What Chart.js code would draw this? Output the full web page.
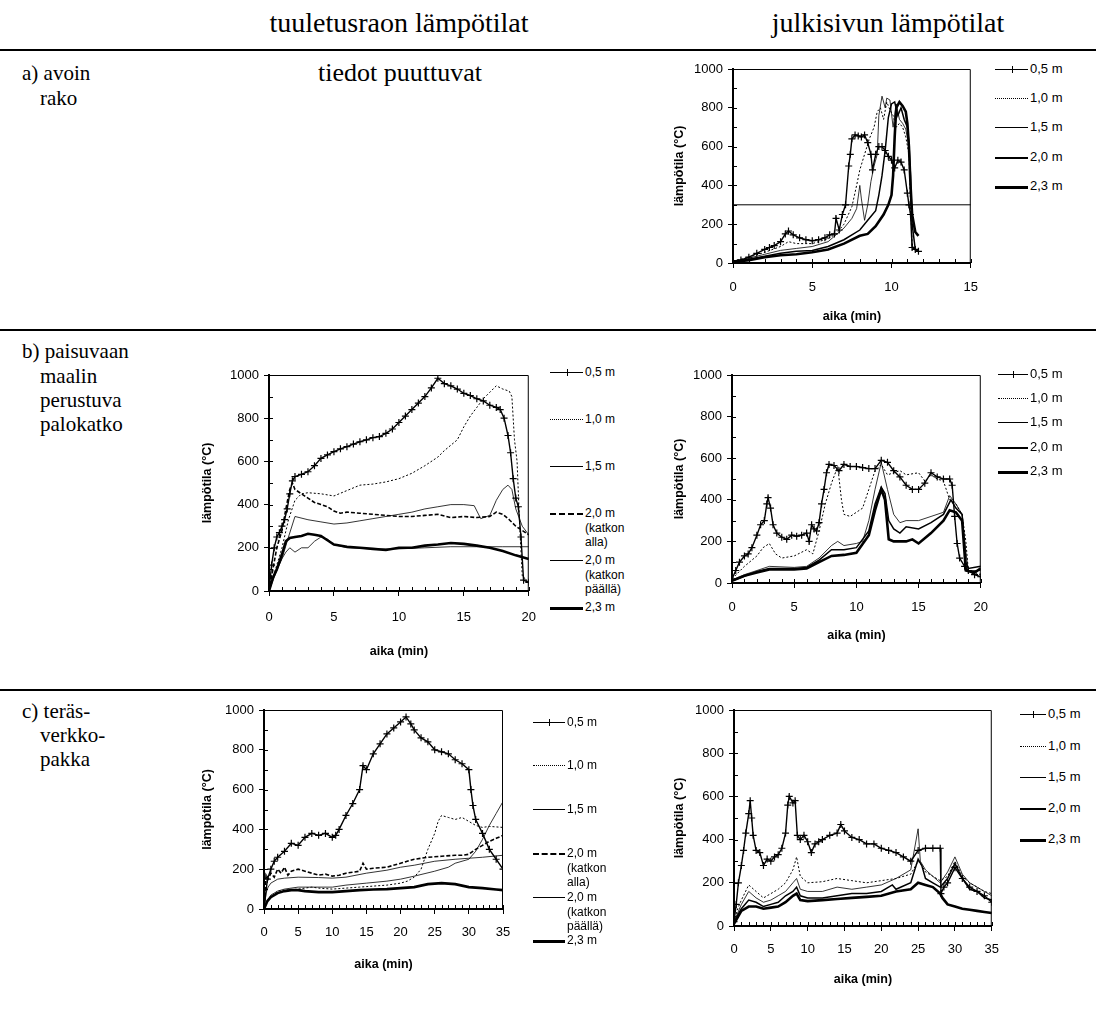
<!DOCTYPE html>
<html lang="fi">
<head>
<meta charset="UTF-8">
<title>Lämpötilat</title>
<script src="https://cdn.jsdelivr.net/npm/chart.js"></script>
<style>
  body { margin: 0; background: #fff; }
  #page { position: relative; width: 1096px; height: 1016px; overflow: hidden; background: #fff; }
  .serif { position: absolute; font-family: "Liberation Serif", "Times New Roman", serif; color: #000; white-space: nowrap; transform: translateY(-50%); }
  .head { font-size: 28px; transform: translate(-50%, -50%); }
  .head.sub { font-size: 26px; }
  .row { font-size: 21px; }
  .rule { position: absolute; left: 0; width: 1096px; background: #000; }
  canvas { position: absolute; }
  .lg { position: absolute; font-family: "Liberation Sans", Arial, sans-serif; font-size: 12px; color: #000; line-height: 14.5px; white-space: nowrap; }
  .lg.big { font-size: 13px; }
  .sw { position: absolute; height: 0; border-top: 1px solid #000; }
  .sw.s05::after { content: ""; position: absolute; left: 50%; top: -4px; width: 1px; height: 7px; background: #000; }
  .sw.s10 { border-top: 1px dotted #000; }
  .sw.s15 { border-top-width: 1px; }
  .sw.s20 { border-top-width: 2px; }
  .sw.s20a { border-top: 2px dashed #000; }
  .sw.s23 { border-top-width: 3px; }
</style>
</head>
<body>
<div id="page">
  <div class="serif head" style="left:399px; top:23px;">tuuletusraon lämpötilat</div>
  <div class="serif head" style="left:888px; top:23px;">julkisivun lämpötilat</div>
  <div class="rule" style="top:49px; height:2px;"></div>

  <div class="serif row" style="left:22px; top:73px;">a) avoin</div>
  <div class="serif row" style="left:40px; top:98px;">rako</div>
  <div class="serif head sub" style="left:400px; top:73px;">tiedot puuttuvat</div>

  <div class="rule" style="top:329px; height:2px;"></div>
  <div class="serif row" style="left:22px; top:351px;">b) paisuvaan</div>
  <div class="serif row" style="left:40px; top:376px;">maalin</div>
  <div class="serif row" style="left:40px; top:400px;">perustuva</div>
  <div class="serif row" style="left:40px; top:424px;">palokatko</div>

  <div class="rule" style="top:689px; height:2px;"></div>
  <div class="serif row" style="left:22px; top:711px;">c) teräs-</div>
  <div class="serif row" style="left:40px; top:735px;">verkko-</div>
  <div class="serif row" style="left:40px; top:759px;">pakka</div>

  <canvas id="chartA" width="330" height="275" style="left:660px; top:55px;"></canvas>
  <canvas id="chartBL" width="355" height="320" style="left:195px; top:340px;"></canvas>
  <canvas id="chartBR" width="340" height="310" style="left:660px; top:340px;"></canvas>
  <canvas id="chartCL" width="340" height="290" style="left:195px; top:690px;"></canvas>
  <canvas id="chartCR" width="350" height="310" style="left:660px; top:690px;"></canvas>
  <div id="legends"></div>
</div>

<script>
// ---- a) avoin rako, julkisivu (0-15 min)
const a05x = [0,0.5,1,1.5,2,2.3,2.6,3,3.3,3.5,3.8,4.2,4.6,5,5.4,5.8,6.1,6.4,6.5,6.7,6.9,7.1,7.3,7.4,7.5,7.7,7.9,8.1,8.3,8.5,8.7,8.8,9.0,9.2,9.4,9.6,9.8,10.0,10.2,10.4,10.6,10.8,11.0,11.1,11.2,11.3,11.5,11.7];
const a05y = [10,15,30,50,70,80,90,110,150,165,145,130,120,115,120,130,145,150,230,170,250,300,500,560,640,660,655,650,660,620,560,480,560,600,600,580,550,530,490,530,520,480,360,300,250,80,70,60];
const a10x = [0,1,2,3,3.5,4,5,6,6.5,7,7.5,7.8,8,8.3,8.6,8.9,9.1,9.3,9.5,9.7,9.9,10.1,10.3,10.5,10.7,10.9,11.1,11.2,11.3,11.5];
const a10y = [10,30,55,85,110,100,100,125,150,200,290,400,480,560,640,700,780,800,740,830,790,760,700,720,700,650,560,300,100,60];
const a15x = [0,1,2,3,4,5,6,7,7.5,7.8,8.0,8.1,8.3,8.5,8.7,8.9,9.1,9.2,9.4,9.6,9.7,9.9,10.1,10.3,10.5,10.7,10.9,11.1,11.2,11.3,11.6];
const a15y = [10,25,45,65,75,85,110,180,230,280,400,330,220,300,420,500,560,760,860,800,850,840,700,820,740,720,690,600,350,90,60];
const a20x = [0,1,2,3,4,5,6,7,8,8.5,9,9.2,9.4,9.6,9.8,10,10.2,10.4,10.6,10.8,11,11.1,11.2,11.3,11.5];
const a20y = [5,20,35,50,60,65,85,120,170,220,270,350,450,580,750,820,830,760,800,740,700,620,450,200,70];
const a23x = [0,1,2,3,4,5,6,7,8,8.5,9,9.5,9.8,10,10.1,10.2,10.3,10.5,10.7,10.9,11.0,11.1,11.2,11.3,11.5,11.7];
const a23y = [5,15,30,40,45,55,70,100,140,150,190,250,300,350,450,650,800,830,810,780,720,600,400,250,160,140];
const aRefX = [0,15];
const aRefY = [300,300];

// ---- b) paisuva palokatko, tuuletusrako (0-20 min)
const bl05x = [0,0.2,0.4,0.6,0.8,1,1.2,1.4,1.6,1.8,2,2.5,3,3.5,4,4.5,5,5.5,6,6.5,7,7.5,8,8.5,9,9.5,10,10.5,11,11.5,12,12.5,13,13.5,14,14.5,15,15.5,16,16.5,17,17.5,17.8,18.1,18.4,18.6,18.8,19,19.2,19.4,19.6,20];
const bl05y = [0,120,200,250,270,300,330,380,450,510,530,540,552,580,614,630,645,658,668,680,691,700,710,715,730,750,780,810,840,870,900,940,985,960,950,935,915,905,890,880,860,850,840,800,720,640,520,430,390,250,50,40];
const bl10x = [0,0.5,1,1.5,2,2.5,3,4,5,6,7,8,9,10,11,12,13,13.5,14,14.5,15,15.5,16,16.5,17,17.5,18,18.5,18.7,18.9,19.1,19.3,19.5,20];
const bl10y = [0,100,200,330,420,450,455,450,440,465,490,495,505,520,545,580,620,650,675,700,760,810,850,890,920,950,935,925,900,700,600,300,70,40];
const bl15x = [0,0.5,1,1.5,2,3,4,5,6,7,8,9,10,11,12,13,14,15,15.8,16.3,17,17.5,18,18.4,18.7,19,19.5,20];
const bl15y = [0,80,150,250,345,330,320,310,315,325,335,345,355,365,380,390,400,400,395,335,350,420,470,490,470,380,300,260];
const bl20ax = [0,0.3,0.6,1,1.3,1.6,1.8,2,2.5,3,3.5,4,4.5,5,5.5,6,7,8,9,10,11,12,13,14,15,16,17,17.5,18,18.5,19,19.5,20];
const bl20ay = [0,100,200,280,380,470,500,470,450,430,410,400,390,370,360,365,360,355,350,345,345,350,355,340,345,340,345,365,355,330,300,280,260];
const bl20bx = [0,0.3,0.6,1,1.3,1.6,2,2.5,3,3.5,4,4.5,5,6,8,10,12,14,16,18,20];
const bl20by = [0,60,100,150,180,200,180,200,200,230,250,240,215,200,195,195,200,205,205,205,205];
const bl23x = [0,0.3,0.6,1,1.3,1.6,2,2.5,3,3.5,4,4.5,5,6,7,8,9,10,11,12,13,14,15,16,17,18,19,20];
const bl23y = [0,60,100,170,230,245,250,255,265,260,255,235,215,205,200,195,190,200,200,210,215,222,218,210,200,185,165,148];

// ---- b) paisuva palokatko, julkisivu (0-20 min)
const br05x = [0,0.3,0.6,1,1.3,1.6,2,2.3,2.6,2.8,2.9,3.1,3.3,3.6,4,4.4,4.8,5.2,5.6,6,6.2,6.4,6.6,6.8,7,7.2,7.4,7.6,7.8,8.2,8.6,9,9.5,10,10.5,11,11.5,12,12.5,13,13.5,14,14.5,15,15.5,16,16.5,17,17.5,17.7,17.9,18.1,18.3,18.7,19,19.5,20];
const br05y = [20,60,100,130,140,170,230,280,300,380,410,360,280,240,220,210,230,225,230,240,200,280,260,250,290,380,450,530,570,565,540,570,560,560,555,550,550,590,580,540,510,470,450,450,480,530,510,500,500,470,320,190,120,80,60,40,30];
const br10x = [0,1,2,2.5,3,3.5,4,5,6,6.5,7,7.5,8,8.5,8.8,9,9.5,10,10.5,11,11.5,12,12.5,13.5,14,15,15.5,16,16.5,17,17.5,18,18.5,18.8,19,20];
const br10y = [20,80,130,170,190,140,120,130,160,140,250,380,480,560,400,330,320,340,360,450,540,570,520,540,520,530,490,520,500,490,400,380,330,200,60,40];
const br15x = [0,1,2,3,5,6,7,8,8.5,9,10,10.5,11,11.5,12,12.5,13,13.5,14,15,16,17,17.5,18,18.5,18.8,19,20];
const br15y = [15,40,60,80,75,80,120,180,200,180,190,200,300,450,580,450,330,290,300,300,320,340,420,380,330,150,60,60];
const br20x = [0,2,3,5,6,7,8,9,10,11,11.5,12,12.3,12.6,13,13.5,14,15,16,17,17.6,18,18.5,18.8,19,20];
const br20y = [10,55,70,70,75,110,160,160,170,250,380,460,430,300,260,240,270,260,290,330,400,360,330,100,70,80];
const br23x = [0,1,2,3,5,6,7,8,9,10,11,11.5,12,12.3,12.6,13,14,14.5,15,16,17,17.5,18,18.5,18.8,19.5,20];
const br23y = [10,35,50,65,65,70,100,130,135,145,230,350,450,400,210,200,200,210,190,240,300,350,340,300,60,50,70];

// ---- c) teräsverkkopakka, tuuletusrako (0-35 min)
const cl05x = [0,0.5,1,1.5,2,3,4,5,6,7,8,9,10,10.5,11,12,13,14,14.5,15,16,17,18,19,20,20.8,21.5,22,23,24,25,26,27,28,29,30,30.3,30.6,31,32,33,34,35];
const cl05y = [0,150,200,240,260,290,330,320,360,380,370,380,360,370,400,470,530,600,720,700,780,830,880,910,940,965,930,900,860,840,800,790,780,750,730,700,600,520,450,380,300,250,200];
const cl10x = [0,0.5,1,2,3,5,7,8,10,12,14,16,18,20,21,22,23,24,25,25.5,26,27,28,29,30,31,32,33,35];
const cl10y = [0,40,60,90,95,100,110,105,100,105,110,115,120,130,140,160,200,300,380,440,470,460,450,460,440,420,410,415,410];
const cl15x = [0,0.5,1,2,3,5,7,10,12,15,18,20,22,25,27,28,29,30,31,32,33,34,35];
const cl15y = [0,40,70,90,100,110,110,110,120,130,140,150,165,190,210,230,240,250,290,350,420,480,540];
const cl20ax = [0,0.3,0.6,1,1.5,2,2.5,3,3.5,4,5,6,7,8,9,10,11,12,13,14,14.5,15,16,18,20,22,24,26,28,29,30,31,32,33,34,35];
const cl20ay = [0,170,150,180,160,200,180,210,170,190,200,190,180,170,175,165,170,180,185,190,230,200,205,210,230,250,260,265,270,270,275,300,320,340,355,370];
const cl20bx = [0,0.3,0.6,1,2,3,5,8,10,12,15,18,20,22,25,28,30,32,35];
const cl20by = [0,80,110,130,150,155,160,158,155,160,180,195,210,220,240,250,255,260,270];
const cl23x = [0,0.5,1,2,3,4,5,6,8,10,12,14,16,18,20,22,24,26,28,30,32,34,35];
const cl23y = [0,40,60,80,90,95,95,90,85,85,90,95,98,100,105,110,125,130,125,110,105,98,95];

// ---- c) teräsverkkopakka, julkisivu (0-35 min)
const cr05x = [0,0.3,0.6,1,1.3,1.6,2,2.2,2.4,2.6,3,3.5,4,4.5,5,5.5,6,6.5,7,7.3,7.5,8,8.3,8.6,9,9.5,10,10.5,11,11.5,12,13,14,14.5,15,16,17,18,19,20,21,22,23,24,25,26,27,28,28.1,28.5,29,30,31,32,33,34,35];
const cr05y = [20,100,200,280,350,430,520,580,500,420,350,340,280,310,300,320,330,360,430,560,600,570,580,420,400,420,390,340,380,390,400,420,430,470,440,410,400,380,380,360,350,340,320,300,350,360,360,360,150,180,200,270,220,180,160,140,110];
const cr10x = [0,0.5,1,2,3,4,5,6,7,8,8.5,9,10,12,14,16,18,20,22,24,25,25.5,26,27,28,29,30,31,32,33,34,35];
const cr10y = [20,80,120,190,160,130,150,170,200,260,320,230,200,205,220,210,200,210,220,240,300,280,250,230,210,230,300,230,200,180,160,150];
const cr15x = [0,0.5,1,2,3,4,5,6,7,8,8.5,9,10,12,14,16,18,20,22,24,25,25.3,26,27,28,29,30,30.5,31,32,33,34,35];
const cr15y = [20,60,100,160,130,110,120,140,160,200,220,170,160,160,180,170,180,190,220,260,450,300,260,230,200,250,320,280,240,200,180,160,140];
const cr20x = [0,0.5,1,2,3,4,5,6,7,8,8.5,9,10,12,14,16,18,20,21.5,22,24,25,25.5,26,27,28,29,30,31,32,33,34,35];
const cr20y = [15,50,80,120,110,90,100,110,140,160,180,140,130,130,140,150,150,160,190,170,200,310,280,220,200,180,220,290,220,170,160,130,120];
const cr23x = [0,0.5,1,2,3,4,5,6,7,8,8.5,9,10,12,14,16,18,20,22,24,25,26,27,28,28.3,29,30,31,32,33,34,35];
const cr23y = [10,40,70,90,90,80,85,90,110,140,150,120,115,120,125,130,135,140,160,170,200,190,180,150,130,100,90,80,75,70,65,60];

Chart.defaults.font.family = '"Liberation Sans", Arial, sans-serif';
Chart.defaults.font.size = 13;
Chart.defaults.color = '#000';

function pts(xs, ys) {
  return xs.map((x, i) => ({ x: x, y: ys[i] }));
}

// line looks per height
const looks = {
  s05: { borderWidth: 1.4, pointStyle: 'cross', pointRadius: 3.5, pointBorderWidth: 1.2 },
  s10: { borderWidth: 1, borderDash: [2, 2] },
  s15: { borderWidth: 0.8 },
  s20: { borderWidth: 1.5 },
  s20a: { borderWidth: 1.6, borderDash: [4, 2] },
  s23: { borderWidth: 2.6 },
  ref: { borderWidth: 1 }
};

function set(label, xs, ys, look) {
  return Object.assign({
    label: label,
    data: pts(xs, ys),
    borderColor: '#000',
    backgroundColor: '#000',
    pointRadius: 0,
    tension: 0,
    fill: false
  }, looks[look]);
}

// frame (top/right) and small inside ticks
const framePlugin = {
  id: 'frame',
  afterDraw(chart) {
    const { ctx, chartArea: a, scales: { x, y } } = chart;
    ctx.save();
    ctx.strokeStyle = '#000';
    ctx.lineWidth = 1;
    ctx.beginPath();
    ctx.moveTo(a.left, a.top + 0.5);
    ctx.lineTo(a.right - 0.5, a.top + 0.5);
    ctx.lineTo(a.right - 0.5, a.bottom);
    for (let v = x.min; v <= x.max; v += 1) {
      const px = Math.round(x.getPixelForValue(v)) + 0.5;
      ctx.moveTo(px, a.bottom);
      ctx.lineTo(px, a.bottom - 4);
    }
    for (let v = y.min; v <= y.max; v += 100) {
      const py = Math.round(y.getPixelForValue(v)) + 0.5;
      ctx.moveTo(a.left, py);
      ctx.lineTo(a.left + 4, py);
    }
    ctx.stroke();
    ctx.restore();
  }
};

function makeChart(id, c) {
  return new Chart(document.getElementById(id), {
    type: 'line',
    data: { datasets: c.sets },
    options: {
      responsive: false,
      animation: false,
      devicePixelRatio: 1,
      layout: { padding: { top: c.padTop, right: c.padRight, left: 0, bottom: 0 } },
      plugins: { legend: { display: false }, tooltip: { enabled: false } },
      scales: {
        x: {
          type: 'linear', min: 0, max: c.xMax,
          ticks: { stepSize: 5, padding: c.xTickPad, callback: v => String(v) },
          grid: { drawOnChartArea: false, tickLength: 5, color: '#000' },
          border: { color: '#000', width: 2 },
          title: { display: true, text: 'aika (min)', font: { size: 12.5, weight: 'bold' }, padding: { top: 0, bottom: c.xTitlePad } },
          afterFit: s => { s.height = c.xH; }
        },
        y: {
          min: 0, max: 1000,
          ticks: { stepSize: 200, padding: 5, callback: v => String(v) },
          grid: { drawOnChartArea: false, tickLength: 5, color: '#000' },
          border: { color: '#000', width: 2 },
          title: { display: true, text: 'lämpötila (°C)', font: { size: 12.5, weight: 'bold' }, padding: { top: c.yTitlePad, bottom: 0 } },
          afterFit: s => { s.width = c.yW; }
        }
      }
    },
    plugins: [framePlugin]
  });
}

makeChart('chartA', {
  xMax: 15, padTop: 14, padRight: 18, yW: 73, xH: 67, xTickPad: 12, xTitlePad: 6, yTitlePad: 12,
  sets: [
    set('0,5 m', a05x, a05y, 's05'),
    set('1,0 m', a10x, a10y, 's10'),
    set('1,5 m', a15x, a15y, 's15'),
    set('2,0 m', a20x, a20y, 's20'),
    set('2,3 m', a23x, a23y, 's23'),
    set('300', aRefX, aRefY, 'ref')
  ]
});

makeChart('chartBL', {
  xMax: 20, padTop: 35, padRight: 14, yW: 74, xH: 69, xTickPad: 14, xTitlePad: 1, yTitlePad: 5,
  sets: [
    set('0,5 m', bl05x, bl05y, 's05'),
    set('1,0 m', bl10x, bl10y, 's10'),
    set('1,5 m', bl15x, bl15y, 's15'),
    set('2,0 m (katkon alla)', bl20ax, bl20ay, 's20a'),
    set('2,0 m (katkon päällä)', bl20bx, bl20by, 's15'),
    set('2,3 m', bl23x, bl23y, 's23')
  ]
});

makeChart('chartBR', {
  xMax: 20, padTop: 35, padRight: 16, yW: 72, xH: 67, xTickPad: 12, xTitlePad: 7, yTitlePad: 12,
  sets: [
    set('0,5 m', br05x, br05y, 's05'),
    set('1,0 m', br10x, br10y, 's10'),
    set('1,5 m', br15x, br15y, 's15'),
    set('2,0 m', br20x, br20y, 's20'),
    set('2,3 m', br23x, br23y, 's23')
  ]
});

makeChart('chartCL', {
  xMax: 35, padTop: 20, padRight: 32, yW: 69, xH: 71, xTickPad: 11, xTitlePad: 8, yTitlePad: 5,
  sets: [
    set('0,5 m', cl05x, cl05y, 's05'),
    set('1,0 m', cl10x, cl10y, 's10'),
    set('1,5 m', cl15x, cl15y, 's15'),
    set('2,0 m (katkon alla)', cl20ax, cl20ay, 's20a'),
    set('2,0 m (katkon päällä)', cl20bx, cl20by, 's15'),
    set('2,3 m', cl23x, cl23y, 's23')
  ]
});

makeChart('chartCR', {
  xMax: 35, padTop: 20, padRight: 16, yW: 74, xH: 74, xTickPad: 11, xTitlePad: 13, yTitlePad: 12,
  sets: [
    set('0,5 m', cr05x, cr05y, 's05'),
    set('1,0 m', cr10x, cr10y, 's10'),
    set('1,5 m', cr15x, cr15y, 's15'),
    set('2,0 m', cr20x, cr20y, 's20'),
    set('2,3 m', cr23x, cr23y, 's23')
  ]
});

// legends: rows of [look, text lines, y of the sample line]
function legend(lineX, lineW, big, rows) {
  const box = document.getElementById('legends');
  rows.forEach(r => {
    const sw = document.createElement('div');
    sw.className = 'sw ' + r[0];
    sw.style.left = lineX + 'px';
    sw.style.width = lineW + 'px';
    sw.style.top = (r[2] - 1) + 'px';
    box.appendChild(sw);
    const t = document.createElement('div');
    t.className = big ? 'lg big' : 'lg';
    t.style.left = (lineX + lineW + 2) + 'px';
    t.style.top = (r[2] - 8) + 'px';
    t.innerHTML = r[1].join('<br>');
    box.appendChild(t);
  });
}

legend(995, 33, true, [['s05', ['0,5 m'], 70], ['s10', ['1,0 m'], 99], ['s15', ['1,5 m'], 128], ['s20', ['2,0 m'], 158], ['s23', ['2,3 m'], 187]]);
legend(550, 33, false, [['s05', ['0,5 m'], 373], ['s10', ['1,0 m'], 420], ['s15', ['1,5 m'], 467], ['s20a', ['2,0 m', '(katkon', 'alla)'], 514], ['s15', ['2,0 m', '(katkon', 'päällä)'], 561], ['s23', ['2,3 m'], 608]]);
legend(998, 30, true, [['s05', ['0,5 m'], 375], ['s10', ['1,0 m'], 399], ['s15', ['1,5 m'], 423], ['s20', ['2,0 m'], 448], ['s23', ['2,3 m'], 472]]);
legend(533, 32, false, [['s05', ['0,5 m'], 723], ['s10', ['1,0 m'], 766], ['s15', ['1,5 m'], 810], ['s20a', ['2,0 m', '(katkon', 'alla)'], 854], ['s15', ['2,0 m', '(katkon', 'päällä)'], 898], ['s23', ['2,3 m'], 941]]);
legend(1020, 26, true, [['s05', ['0,5 m'], 715], ['s10', ['1,0 m'], 747], ['s15', ['1,5 m'], 778], ['s20', ['2,0 m'], 809], ['s23', ['2,3 m'], 840]]);
</script>
</body>
</html>
